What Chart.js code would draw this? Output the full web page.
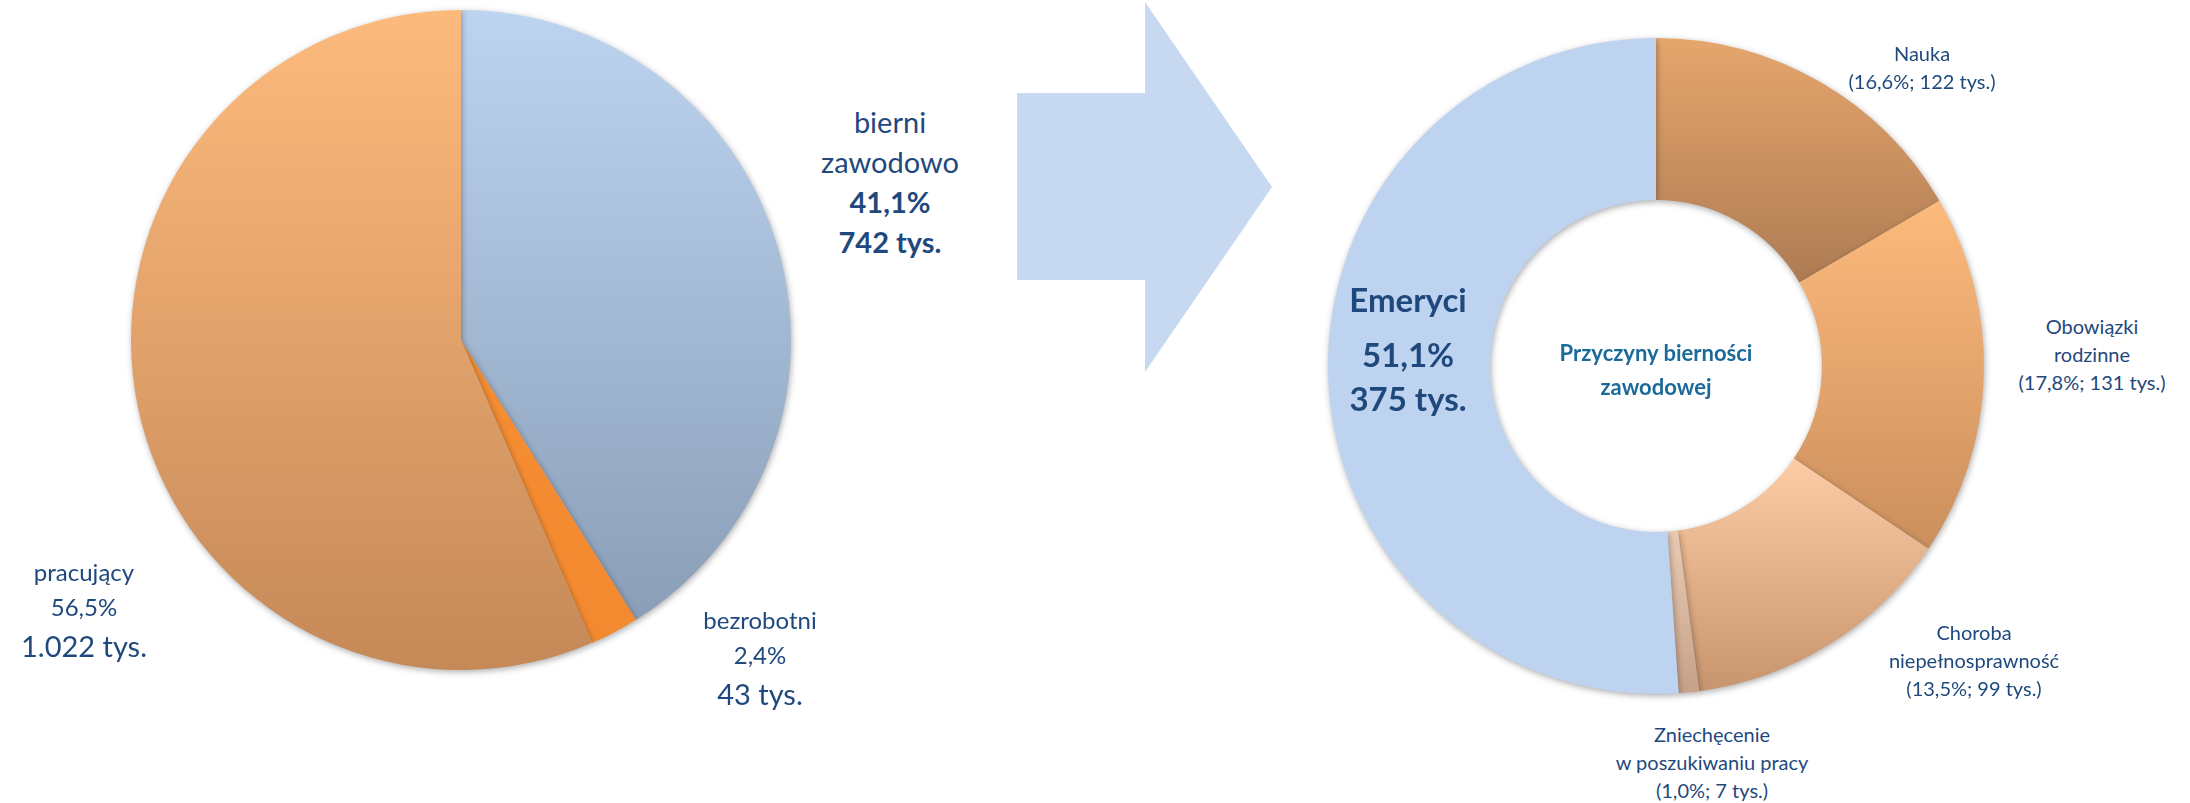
<!DOCTYPE html>
<html>
<head>
<meta charset="utf-8">
<script src="https://cdn.jsdelivr.net/npm/chart.js@4"></script>
<style>
  body { margin: 0; background: #fff; width: 2190px; height: 803px; overflow: hidden; position: relative; font-family: Lato, 'Open Sans', sans-serif; }
  canvas { position: absolute; }
  .lbl { position: absolute; transform: translateX(-50%); text-align: center; color: #1F497D; white-space: nowrap; }
  .lbl div { white-space: nowrap; }
  #arrow { position: absolute; left: 1017px; top: 2px; width: 255px; height: 370px; background: #C7D9F0;
    clip-path: polygon(0 91px, 128px 91px, 128px 0, 255px 185px, 128px 370px, 128px 278px, 0 278px); }
</style>
</head>
<body>
<canvas id="pie-left" width="680" height="680" style="left:121px;top:0px"></canvas>
<div id="arrow"></div>
<canvas id="ring-right" width="676" height="676" style="left:1318px;top:28px"></canvas>
<div id="labels"></div>
<script>
// ludność wg statusu na rynku pracy
const pieNames = ['bierni zawodowo', 'bezrobotni', 'pracujący']
const pieShares = [41.1, 2.4, 56.5]
const pieThousands = [742, 43, 1022]

// przyczyny bierności zawodowej
const ringNames = ['Nauka', 'Obowiązki rodzinne', 'Choroba niepełnosprawność', 'Zniechęcenie w poszukiwaniu pracy', 'Emeryci']
const ringShares = [16.6, 17.8, 13.5, 1.0, 51.1]
const ringThousands = [122, 131, 99, 7, 375]
const ringTitle = ['Przyczyny bierności', 'zawodowej']

const pieColors = [['#BDD4F1', '#8A9EB7'], ['#F58D33', '#F48A30'], ['#FDBA7C', '#C58958']]
const ringColors = [['#E6A66C', '#AD7B53'], ['#FDBA7C', '#CB8F5D'], ['#FDCCA4', '#C7946E'], ['#EACAB3', '#C7A188'], ['#BDD3EF', '#BDD3EF']]

const pct = v => v.toFixed(1).replace('.', ',') + '%'
const thous = v => v >= 1000 ? Math.floor(v / 1000) + '.' + String(v % 1000).padStart(3, '0') : String(v)

function sliceGradient(ctx, colors, cutFrac) {
    const chart = ctx.chart
    const area = chart.chartArea
    if (!area) return colors[0]
    const data = ctx.dataset.data
    const total = data.reduce((a, b) => a + b, 0)
    let start = 0
    for (let i = 0; i < ctx.dataIndex; i++) start += data[i]
    const a0 = start / total * 2 * Math.PI
    const a1 = (start + data[ctx.dataIndex]) / total * 2 * Math.PI
    const cy = (area.top + area.bottom) / 2
    const R = Math.min(area.width, area.height) / 2
    const r = R * cutFrac
    let top = Infinity, bottom = -Infinity
    for (let k = 0; k <= 80; k++) {
        const a = a0 + (a1 - a0) * k / 80
        for (const rad of [r, R]) {
            const y = cy - rad * Math.cos(a)
            top = Math.min(top, y)
            bottom = Math.max(bottom, y)
        }
    }
    const g = chart.ctx.createLinearGradient(0, top, 0, bottom)
    g.addColorStop(0, colors[0])
    g.addColorStop(1, colors[1])
    return g
}

const shadowPlugin = {
    id: 'softShadow',
    beforeDatasetsDraw(chart) {
        const c = chart.ctx
        c.save()
        c.shadowColor = 'rgba(0,0,0,0.32)'
        c.shadowBlur = 6
        c.shadowOffsetX = 1
        c.shadowOffsetY = 2
    },
    afterDatasetsDraw(chart) {
        chart.ctx.restore()
    }
}

const baseOptions = {
    responsive: false,
    animation: false,
    layout: { padding: 10 },
    plugins: { legend: { display: false }, tooltip: { enabled: false } }
}

new Chart(document.getElementById('pie-left'), {
    type: 'pie',
    data: {
        labels: pieNames,
        datasets: [{
            data: pieShares,
            borderWidth: 0,
            backgroundColor: ctx => sliceGradient(ctx, pieColors[ctx.dataIndex], 0)
        }]
    },
    options: baseOptions,
    plugins: [shadowPlugin]
})

const cut = 0.506
new Chart(document.getElementById('ring-right'), {
    type: 'doughnut',
    data: {
        labels: ringNames,
        datasets: [{
            data: ringShares,
            borderWidth: 0,
            backgroundColor: ctx => sliceGradient(ctx, ringColors[ctx.dataIndex], cut)
        }]
    },
    options: Object.assign({}, baseOptions, { cutout: (cut * 100) + '%' }),
    plugins: [shadowPlugin]
})

// napisy
const holder = document.getElementById('labels')
function addLabel(x, y, lines, color) {
    const box = document.createElement('div')
    box.className = 'lbl'
    box.style.left = x + 'px'
    box.style.top = y + 'px'
    if (color) box.style.color = color
    lines.forEach(l => {
        const d = document.createElement('div')
        d.textContent = l.t
        d.style.fontSize = l.s + 'px'
        d.style.lineHeight = l.h + 'px'
        d.style.fontWeight = l.b ? '700' : '400'
        box.append(d)
    })
    holder.append(box)
}

addLabel(890, 102, [
    { t: 'bierni', s: 29, h: 40 },
    { t: 'zawodowo', s: 29, h: 40 },
    { t: pct(pieShares[0]), s: 29, h: 40, b: true },
    { t: thous(pieThousands[0]) + ' tys.', s: 29, h: 40, b: true }
])
addLabel(760, 602, [
    { t: pieNames[1], s: 24, h: 35 },
    { t: pct(pieShares[1]), s: 24, h: 35 },
    { t: thous(pieThousands[1]) + ' tys.', s: 29, h: 44 }
])
addLabel(84, 554, [
    { t: pieNames[2], s: 24, h: 35 },
    { t: pct(pieShares[2]), s: 24, h: 35 },
    { t: thous(pieThousands[2]) + ' tys.', s: 29, h: 44 }
])

const small = (i, names) => names.map(t => ({ t: t, s: 20, h: 28 })).concat([{ t: '(' + pct(ringShares[i]) + '; ' + ringThousands[i] + ' tys.)', s: 20, h: 28 }])
addLabel(1922, 39, small(0, ['Nauka']))
addLabel(2092, 312, small(1, ['Obowiązki', 'rodzinne']))
addLabel(1974, 618, small(2, ['Choroba', 'niepełnosprawność']))
addLabel(1712, 720, small(3, ['Zniechęcenie', 'w poszukiwaniu pracy']))

addLabel(1408, 266, [
    { t: ringNames[4], s: 33, h: 66, b: true },
    { t: pct(ringShares[4]), s: 33, h: 44, b: true },
    { t: thous(ringThousands[4]) + ' tys.', s: 33, h: 44, b: true }
])
addLabel(1656, 336, ringTitle.map(t => ({ t: t, s: 22, h: 34, b: true })), '#1C6A9A')
</script>
</body>
</html>
